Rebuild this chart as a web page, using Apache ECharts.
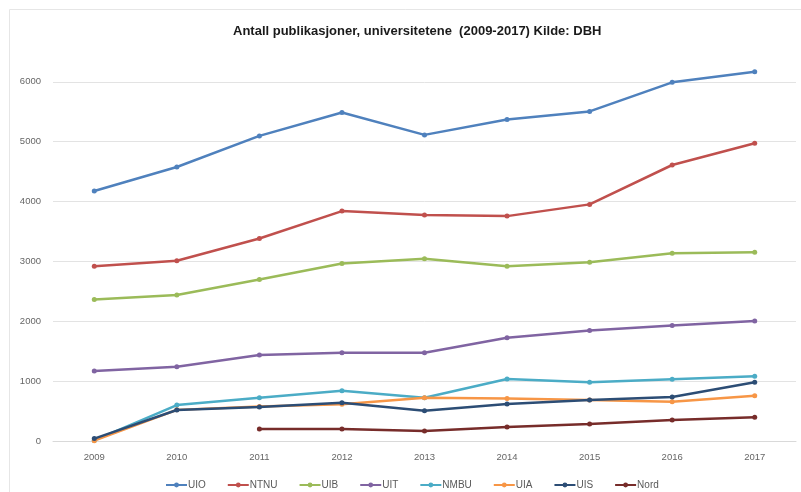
<!DOCTYPE html>
<html>
<head>
<meta charset="utf-8">
<script src="https://cdn.jsdelivr.net/npm/echarts@6/dist/echarts.min.js"></script>
<style>
html,body{margin:0;padding:0;background:#fff;}
#chart{width:801px;height:492px;}
</style>
</head>
<body>
<div id="chart"></div>
<script>
var years = ['2009','2010','2011','2012','2013','2014','2015','2016','2017'];
var seriesNames = ['UIO','NTNU','UIB','UIT','NMBU','UIA','UIS','Nord'];
var UIO  = [4176, 4578, 5097, 5489, 5114, 5372, 5506, 5992, 6169];
var NTNU = [2920, 3010, 3384, 3841, 3774, 3757, 3953, 4611, 4975];
var UIB  = [2362, 2440, 2697, 2965, 3043, 2920, 2987, 3137, 3154];
var UIT  = [1170, 1240, 1437, 1475, 1475, 1725, 1847, 1931, 2005];
var NMBU = [10, 600, 722, 838, 722, 1035, 980, 1030, 1080];
var UIA  = [5, 520, 575, 612, 722, 712, 685, 655, 755];
var UIS  = [40, 517, 567, 638, 505, 617, 685, 735, 980];
var Nord = [null, null, 200, 200, 167, 233, 283, 350, 395];
var values = [UIO, NTNU, UIB, UIT, NMBU, UIA, UIS, Nord];
var colors = ['#4F81BD','#C0504D','#9BBB59','#8064A2','#4BACC6','#F79646','#2C4D75','#772C2A'];
var titleText = 'Antall publikasjoner, universitetene  (2009-2017) Kilde: DBH';

var chart = echarts.init(document.getElementById('chart'), null, {renderer:'canvas'});
var series = seriesNames.map(function(n, i){
  return {
    name: n,
    type: 'line',
    data: values[i],
    symbol: 'circle',
    symbolSize: 5,
    connectNulls: false,
    lineStyle: {width: 2.5, color: colors[i]},
    itemStyle: {color: colors[i]},
    z: 2 + i
  };
});
chart.setOption({
  animation: false,
  backgroundColor: '#fff',
  color: colors,
  graphic: [{
    type: 'rect', left: 7, top: 7,
    shape: {width: 900, height: 600},
    style: {fill: 'none', stroke: '#e6e6e6', lineWidth: 1},
    silent: true
  }],
  title: {
    text: titleText,
    left: 233, top: 25, padding: 0,
    textStyle: {fontFamily: 'Liberation Sans', fontWeight: 'bold', fontSize: 13, color: '#1a1a1a'}
  },
  legend: {
    data: seriesNames,
    left: 165, top: 480, padding: 0,
    itemGap: 21, itemWidth: 21, itemHeight: 6,
    textStyle: {fontFamily: 'Liberation Sans', fontSize: 10, color: '#595959', padding: [0,0,0,-4]}
  },
  grid: {left: 53, right: 5, top: 22, bottom: 51, containLabel: false},
  xAxis: {
    type: 'category',
    data: years,
    boundaryGap: true,
    axisLine: {lineStyle: {color: '#d9d9d9', width: 1}},
    axisTick: {show: false},
    axisLabel: {fontFamily: 'Liberation Sans', fontSize: 9.5, color: '#666', margin: 11}
  },
  yAxis: {
    type: 'value',
    min: 0, max: 7000, interval: 1000,
    axisLine: {show: false},
    axisTick: {show: false},
    axisLabel: {fontFamily: 'Liberation Sans', fontSize: 9.5, color: '#666', margin: 12, showMaxLabel: false,
      formatter: function(v){ return String(v); }},
    splitLine: {lineStyle: {color: '#e3e3e3', width: 1}, showMaxLine: false}
  },
  series: series
});
</script>
</body>
</html>
